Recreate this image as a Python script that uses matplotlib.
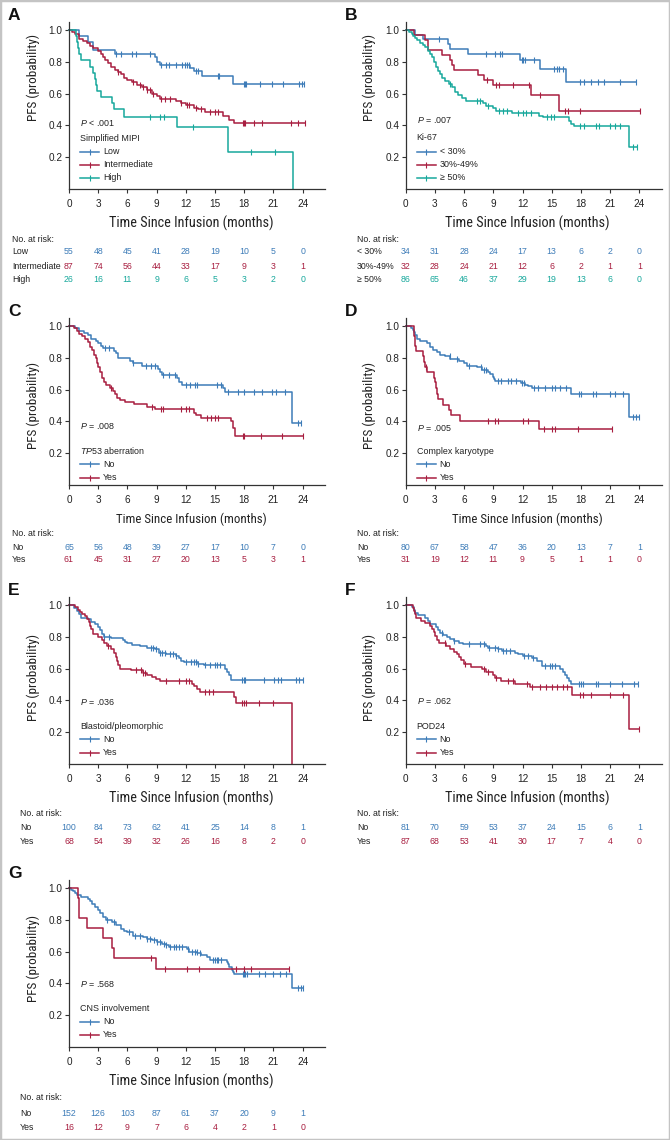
import numpy as np
import matplotlib
matplotlib.use("Agg")
import matplotlib.pyplot as plt
from matplotlib.patches import Rectangle
from matplotlib.transforms import blended_transform_factory

plt.rcParams['font.family'] = ['Liberation Sans', 'DejaVu Sans']
plt.rcParams['mathtext.fontset'] = 'custom'
plt.rcParams['mathtext.rm'] = 'Liberation Sans'
plt.rcParams['mathtext.it'] = 'Liberation Sans:italic'

BLUE = '#3d7cb8'
RED = '#a81e40'
TEAL = '#17a89c'
TXT = '#222222'
LABEL_FONT = ['Roboto Condensed', 'Liberation Sans']

months = [0, 3, 6, 9, 12, 15, 18, 21, 24]

# ---- A: simplified MIPI ----
a_low_t = [1.0, 2.0, 2.5, 4.7, 8.8, 9.0, 9.3, 12.4, 12.8, 13.7, 16.8]
a_low_s = [0.964, 0.927, 0.873, 0.848, 0.83, 0.80, 0.78, 0.76, 0.745, 0.71, 0.662]
a_low_c = [4.8, 5.3, 6.5, 6.9, 8.3, 9.5, 10.0, 10.3, 11.0, 11.6, 11.9, 12.1, 12.3, 13.0, 13.3,
           15.3, 15.4, 18.0, 18.1, 18.2, 19.6, 20.9, 22.0, 23.6, 23.9, 24.1]
a_int_t = [0.3, 0.6, 1.0, 1.4, 1.8, 2.2, 2.5, 3.0, 3.3, 3.5, 3.7, 4.0, 4.3, 4.7, 5.0, 5.3, 5.6,
           6.0, 6.5, 7.0, 7.5, 8.0, 8.5, 9.0, 9.4, 11.0, 11.5, 12.0, 12.8, 13.3, 14.0, 15.8, 16.4, 17.0]
a_int_s = [0.99, 0.975, 0.945, 0.93, 0.915, 0.90, 0.885, 0.87, 0.85, 0.83, 0.81, 0.79, 0.77, 0.75,
           0.735, 0.72, 0.70, 0.685, 0.67, 0.655, 0.64, 0.62, 0.60, 0.585, 0.565, 0.555, 0.54, 0.53,
           0.51, 0.50, 0.485, 0.46, 0.435, 0.414]
a_int_c = [5.0, 6.6, 7.3, 7.6, 8.0, 8.3, 8.6, 9.5, 9.9, 10.4, 11.5, 12.1, 12.3, 13.0, 13.6, 14.5,
           15.0, 15.3, 17.9, 18.0, 18.1, 19.0, 19.8, 22.8, 23.5, 24.2]
a_high_t = [0.7, 0.8, 0.9, 1.0, 1.2, 2.2, 2.5, 2.7, 2.8, 2.9, 3.3, 4.4, 4.6, 5.6, 11.1, 16.3, 23.0]
a_high_s = [0.962, 0.923, 0.885, 0.846, 0.808, 0.769, 0.731, 0.692, 0.654, 0.615, 0.577, 0.538,
            0.50, 0.455, 0.39, 0.234, 0.0]
a_high_c = [8.3, 9.3, 9.8, 12.7, 18.7, 21.2]
a_risk_low = [55, 48, 45, 41, 28, 19, 10, 5, 0]
a_risk_int = [87, 74, 56, 44, 33, 17, 9, 3, 1]
a_risk_high = [26, 16, 11, 9, 6, 5, 3, 2, 0]

# ---- B: Ki-67 ----
b_lo_t = [1.0, 1.8, 4.3, 4.5, 6.4, 11.7, 13.8, 16.5]
b_lo_s = [0.971, 0.941, 0.91, 0.88, 0.85, 0.81, 0.755, 0.672]
b_lo_c = [3.4, 8.2, 9.2, 9.7, 9.9, 11.9, 12.0, 12.3, 13.2, 15.2, 15.5, 15.8, 16.2, 17.9, 18.3,
          19.0, 19.8, 20.4, 22.0, 23.7]
b_mid_t = [0.9, 2.0, 2.3, 3.7, 4.5, 4.8, 5.0, 7.4, 8.0, 9.0, 12.9, 15.8]
b_mid_s = [0.969, 0.938, 0.875, 0.844, 0.813, 0.781, 0.75, 0.719, 0.688, 0.656, 0.59, 0.49]
b_mid_c = [8.4, 9.3, 9.6, 11.0, 12.7, 13.8, 16.4, 16.7, 17.9, 24.1]
b_hi_t = [0.3, 0.6, 0.8, 1.0, 1.2, 1.5, 1.8, 2.0, 2.3, 2.5, 2.7, 2.9, 3.1, 3.3, 3.5, 3.7, 4.0, 4.4,
          4.8, 5.1, 5.4, 5.8, 6.2, 7.9, 8.3, 9.0, 9.3, 10.9, 13.7, 14.1, 16.8, 17.0, 17.3, 22.9]
b_hi_s = [0.988, 0.977, 0.965, 0.95, 0.935, 0.92, 0.905, 0.89, 0.87, 0.85, 0.83, 0.80, 0.77, 0.74,
          0.72, 0.70, 0.68, 0.66, 0.64, 0.61, 0.59, 0.57, 0.555, 0.54, 0.525, 0.51, 0.49, 0.475,
          0.46, 0.45, 0.43, 0.41, 0.397, 0.265]
b_hi_c = [4.6, 7.3, 7.6, 8.5, 9.6, 10.0, 10.4, 11.5, 12.0, 12.4, 12.9, 14.5, 14.9, 15.2, 17.9,
          18.3, 19.6, 19.9, 21.0, 21.5, 22.0, 23.4, 23.8]
b_risk_lo = [34, 31, 28, 24, 17, 13, 6, 2, 0]
b_risk_mid = [32, 28, 24, 21, 12, 6, 2, 1, 1]
b_risk_hi = [86, 65, 46, 37, 29, 19, 13, 6, 0]

# ---- C: TP53 aberration ----
c_no_t = [0.6, 1.0, 1.5, 2.0, 2.3, 2.8, 3.0, 3.3, 3.5, 4.6, 4.8, 5.0, 6.3, 6.6, 7.5, 9.1, 9.4,
          9.6, 11.1, 11.3, 11.6, 15.8, 16.0, 22.9]
c_no_s = [0.985, 0.97, 0.955, 0.94, 0.92, 0.905, 0.89, 0.875, 0.862, 0.845, 0.83, 0.80, 0.78,
          0.765, 0.75, 0.73, 0.71, 0.69, 0.67, 0.65, 0.63, 0.61, 0.585, 0.392]
c_no_c = [3.7, 4.1, 6.6, 7.9, 8.4, 8.8, 9.7, 10.3, 10.9, 12.0, 12.4, 12.9, 13.2, 15.2, 15.6, 16.3,
          17.4, 18.0, 19.0, 19.8, 20.9, 21.3, 22.2, 23.5, 23.8]
c_yes_t = [0.5, 0.8, 1.0, 1.3, 1.6, 2.0, 2.2, 2.4, 2.6, 2.8, 2.9, 3.0, 3.2, 3.4, 3.6, 3.8, 4.2,
           4.5, 4.7, 4.9, 5.2, 5.8, 6.7, 8.0, 8.8, 12.8, 13.0, 13.6, 16.6, 16.8, 17.1]
c_yes_s = [0.984, 0.967, 0.95, 0.934, 0.918, 0.90, 0.87, 0.85, 0.82, 0.80, 0.77, 0.74, 0.71,
           0.67, 0.65, 0.63, 0.61, 0.59, 0.57, 0.55, 0.535, 0.52, 0.51, 0.49, 0.475, 0.455, 0.44,
           0.42, 0.40, 0.36, 0.305]
c_yes_c = [4.3, 8.5, 9.5, 9.7, 11.5, 12.0, 12.3, 14.2, 14.6, 15.0, 15.3, 17.9, 18.0, 19.7, 21.9, 24.0]
c_risk_no = [65, 56, 48, 39, 27, 17, 10, 7, 0]
c_risk_yes = [61, 45, 31, 27, 20, 13, 5, 3, 1]

# ---- D: complex karyotype ----
d_no_t = [0.5, 0.8, 0.9, 1.0, 1.2, 1.5, 2.2, 2.5, 2.8, 3.2, 3.5, 4.0, 4.6, 5.5, 6.0, 6.3, 7.3,
          7.8, 8.5, 8.7, 9.0, 9.1, 9.2, 11.8, 12.3, 12.6, 13.0, 17.0, 22.9]
d_no_s = [0.99, 0.975, 0.96, 0.94, 0.92, 0.905, 0.89, 0.87, 0.85, 0.835, 0.82, 0.81, 0.79, 0.78,
          0.765, 0.75, 0.74, 0.725, 0.71, 0.70, 0.68, 0.665, 0.653, 0.64, 0.63, 0.62, 0.611,
          0.574, 0.43]
d_no_c = [4.5, 5.3, 6.5, 7.7, 8.0, 8.3, 9.5, 9.8, 10.5, 10.8, 11.3, 11.9, 12.2, 13.2, 13.6, 14.3,
          15.0, 15.3, 15.9, 16.5, 17.8, 18.0, 19.2, 19.5, 21.0, 21.5, 22.3, 23.4, 23.7, 24.0]
d_yes_t = [0.85, 0.9, 0.95, 1.0, 1.1, 1.8, 1.9, 2.0, 2.2, 2.9, 3.0, 3.1, 3.2, 3.35, 3.8, 4.4,
           4.7, 5.6, 13.7]
d_yes_s = [0.968, 0.935, 0.903, 0.871, 0.84, 0.81, 0.775, 0.745, 0.71, 0.675, 0.645, 0.61, 0.575,
           0.54, 0.505, 0.47, 0.44, 0.405, 0.35]
d_yes_c = [2.1, 8.5, 9.2, 9.5, 12.0, 12.6, 14.2, 15.0, 15.3, 17.7, 21.2]
d_risk_no = [80, 67, 58, 47, 36, 20, 13, 7, 1]
d_risk_yes = [31, 19, 12, 11, 9, 5, 1, 1, 0]

# ---- E: blastoid/pleomorphic ----
e_no_t = [0.5, 0.8, 1.0, 1.2, 2.0, 2.3, 2.7, 3.0, 3.2, 3.4, 3.6, 4.3, 5.5, 5.8, 6.0, 6.5, 7.3,
          8.0, 8.8, 9.2, 10.0, 11.0, 11.3, 11.5, 11.8, 13.3, 13.9, 16.0, 16.2, 16.4, 16.6]
e_no_s = [0.98, 0.96, 0.94, 0.92, 0.91, 0.895, 0.88, 0.86, 0.84, 0.82, 0.80, 0.79, 0.78, 0.77,
          0.76, 0.75, 0.74, 0.73, 0.72, 0.70, 0.69, 0.68, 0.665, 0.65, 0.64, 0.63, 0.62, 0.60,
          0.58, 0.56, 0.53]
e_no_c = [3.6, 4.1, 8.4, 8.6, 8.9, 9.3, 9.6, 9.9, 10.4, 10.7, 11.0, 12.0, 12.5, 12.8, 13.0, 13.3,
          14.0, 14.5, 15.0, 15.2, 15.5, 17.8, 18.0, 18.1, 20.0, 21.1, 21.5, 21.8, 23.3, 23.6, 24.0]
e_yes_t = [0.6, 0.9, 1.1, 1.3, 1.6, 1.9, 2.1, 2.2, 2.3, 2.5, 3.0, 3.4, 3.6, 3.9, 4.3, 4.6, 4.8,
           4.9, 5.0, 5.2, 6.4, 7.6, 8.0, 8.5, 8.9, 9.4, 12.6, 12.8, 13.2, 13.5, 16.9, 17.2, 22.9]
e_yes_s = [0.985, 0.97, 0.955, 0.94, 0.93, 0.91, 0.895, 0.87, 0.85, 0.82, 0.80, 0.78, 0.76, 0.74,
           0.72, 0.70, 0.675, 0.65, 0.62, 0.60, 0.59, 0.575, 0.56, 0.55, 0.535, 0.52, 0.505, 0.49,
           0.47, 0.45, 0.42, 0.385, 0.0]
e_yes_c = [4.0, 6.9, 7.4, 7.6, 7.8, 10.0, 11.3, 12.0, 12.3, 14.0, 14.4, 14.8, 17.8, 18.0, 18.2,
           19.5, 21.0]
e_risk_no = [100, 84, 73, 62, 41, 25, 14, 8, 1]
e_risk_yes = [68, 54, 39, 32, 26, 16, 8, 2, 0]

# ---- F: POD24 ----
f_no_t = [0.6, 0.9, 1.0, 1.3, 2.0, 2.3, 2.5, 3.1, 3.3, 3.5, 3.8, 4.2, 4.6, 5.0, 5.5, 5.9, 8.2,
          8.5, 9.5, 9.9, 11.2, 11.5, 12.0, 13.0, 13.5, 14.0, 15.9, 16.2, 16.4, 16.6, 16.8, 17.0]
f_no_s = [0.99, 0.97, 0.95, 0.935, 0.92, 0.90, 0.88, 0.86, 0.84, 0.825, 0.81, 0.80, 0.787, 0.775,
          0.763, 0.754, 0.74, 0.727, 0.72, 0.71, 0.70, 0.69, 0.68, 0.665, 0.65, 0.615, 0.60, 0.58,
          0.56, 0.54, 0.52, 0.502]
f_no_c = [3.7, 5.0, 6.5, 7.6, 8.0, 8.6, 9.2, 9.5, 10.0, 10.3, 10.7, 12.2, 12.6, 13.1, 14.3, 14.8,
          15.0, 15.3, 17.8, 18.0, 18.2, 19.6, 19.8, 21.0, 22.2, 23.5, 23.9]
f_yes_t = [0.7, 0.9, 1.0, 1.1, 1.6, 2.0, 2.5, 2.7, 2.9, 3.0, 3.2, 3.4, 4.1, 4.6, 5.0, 5.3, 5.5,
           5.7, 6.0, 6.7, 7.8, 8.2, 9.0, 9.2, 9.8, 11.2, 12.8, 17.1, 22.9]
f_yes_s = [0.98, 0.96, 0.94, 0.92, 0.90, 0.885, 0.87, 0.85, 0.83, 0.805, 0.78, 0.76, 0.745, 0.725,
           0.705, 0.69, 0.67, 0.655, 0.63, 0.607, 0.595, 0.578, 0.56, 0.54, 0.525, 0.505, 0.485,
           0.435, 0.218]
f_yes_c = [4.0, 6.1, 8.0, 8.5, 9.3, 10.5, 11.0, 12.5, 13.0, 13.8, 14.4, 15.0, 15.5, 16.2, 16.6,
           17.9, 18.2, 19.0, 21.0, 22.3, 24.0]
f_risk_no = [81, 70, 59, 53, 37, 24, 15, 6, 1]
f_risk_yes = [87, 68, 53, 41, 30, 17, 7, 4, 0]

# ---- G: CNS involvement ----
g_no_t = [0.2, 0.4, 0.6, 0.8, 1.2, 2.0, 2.2, 2.4, 2.7, 3.0, 3.2, 3.5, 3.8, 4.4, 4.8, 5.3, 5.7,
          6.0, 6.6, 7.6, 8.0, 8.5, 9.0, 9.6, 10.0, 10.3, 12.1, 12.3, 13.2, 13.6, 14.2, 14.5, 16.2,
          16.3, 16.4, 16.7, 16.8, 17.0, 22.9]
g_no_s = [0.99, 0.98, 0.97, 0.955, 0.94, 0.93, 0.92, 0.90, 0.88, 0.86, 0.84, 0.82, 0.80, 0.785,
          0.765, 0.745, 0.73, 0.72, 0.70, 0.69, 0.68, 0.67, 0.66, 0.65, 0.64, 0.63, 0.615, 0.60,
          0.59, 0.58, 0.565, 0.55, 0.535, 0.52, 0.50, 0.485, 0.47, 0.457, 0.368]
g_no_c = [3.9, 4.6, 6.2, 6.8, 7.3, 8.0, 8.3, 8.7, 9.0, 9.3, 9.8, 10.0, 10.4, 10.8, 11.0, 11.3,
          11.6, 12.2, 12.6, 12.9, 13.1, 13.5, 14.8, 15.0, 15.2, 15.3, 15.6, 17.9, 18.0, 18.1, 18.3,
          19.5, 20.1, 21.0, 21.7, 22.3, 23.5, 23.8, 24.0]
g_yes_t = [0.9, 1.0, 1.9, 3.5, 4.4, 4.6, 8.9]
g_yes_s = [0.9375, 0.8125, 0.75, 0.6875, 0.625, 0.5625, 0.49]
g_yes_c = [8.4, 9.85, 12.1, 13.4, 17.2, 17.95, 18.7, 22.6]
g_risk_no = [152, 126, 103, 87, 61, 37, 20, 9, 1]
g_risk_yes = [16, 12, 9, 7, 6, 4, 2, 1, 0]

W, H = 670, 1140
fig = plt.figure(figsize=(W / 100, H / 100), dpi=100)
fig.add_artist(Rectangle((0, 0), 1, 1, transform=fig.transFigure, fill=False,
                         edgecolor='#c4c4c4', lw=2.5))


def km(ax, t, s, c, color):
    t = np.asarray(t, float)
    s = np.asarray(s, float)
    end = max(t[-1], max(c)) if s[-1] > 0 else t[-1]
    xs = np.r_[0, t, end]
    ys = np.r_[1.0, s, s[-1]]
    ax.step(xs, ys, where='post', color=color, lw=1.1, clip_on=False)
    lvl = np.r_[1.0, s][np.searchsorted(t, c, side='right')]
    ax.plot(c, lvl, ls='none', marker='|', ms=4.5, mew=0.8, color=color, clip_on=False)


def panel(letter, left, top, bottom, curves, title, pval, leg_y, tab_x, tab_y, risks, small=False):
    ax = fig.add_axes([left / W, 1 - bottom / H, 256 / W, (bottom - top) / H])
    for t, s, c, col in curves:
        km(ax, t, s, c, col)
    ax.set_xlim(0, 26.3)
    ax.set_ylim(0, 1.05)
    ax.set_xticks(months)
    ax.set_yticks([0.2, 0.4, 0.6, 0.8, 1.0])
    ax.set_yticklabels(['0.2', '0.4', '0.6', '0.8', '1.0'])
    for sp in ['top', 'right']:
        ax.spines[sp].set_visible(False)
    for sp in ['left', 'bottom']:
        ax.spines[sp].set_color('#333333')
        ax.spines[sp].set_linewidth(0.9)
    ax.tick_params(axis='both', length=3, width=0.8, color='#333333', labelsize=7.2, labelcolor=TXT)
    ax.tick_params(axis='x', pad=4)
    ax.tick_params(axis='y', pad=1.5)
    hgt = bottom - top
    ax.text((191 - 69) / 256, -34.5 / hgt, 'Time Since Infusion (months)',
            fontsize=9.3 if small else 10.3, family=LABEL_FONT,
            color=TXT, ha='center', va='center', transform=ax.transAxes)
    ax.text(-36 / 256, leg_y[0], 'PFS (probability)', rotation=90, fontsize=9.5,
            family=LABEL_FONT, color=TXT, ha='center', va='center', transform=ax.transAxes)
    fig.text((left - 61) / W, 1 - (top - 7) / H, letter, fontsize=12.5, fontweight='bold',
             color='#111111', ha='left', va='center')
    # p value and legend
    ax.text(11 / 256, leg_y[1], pval, fontsize=6.4, color=TXT, va='center', transform=ax.transAxes)
    ax.text(11 / 256, leg_y[2], title, fontsize=6.4, color=TXT, va='center', transform=ax.transAxes)
    for (lab, col), yy in zip([(r[0], r[1]) for r in risks], leg_y[3:]):
        ax.plot([11 / 256, 30 / 256], [yy, yy], color=col, lw=1.1, transform=ax.transAxes,
                clip_on=False)
        ax.plot([20.5 / 256], [yy], marker='|', ms=4.5, mew=0.8, color=col,
                transform=ax.transAxes, clip_on=False)
        ax.text(34 / 256, yy, lab, fontsize=6.4, color=TXT, va='center', transform=ax.transAxes)
    # numbers at risk
    tr = blended_transform_factory(ax.transData, fig.transFigure)
    fig.text(tab_x / W, 1 - tab_y[0] / H, 'No. at risk:', fontsize=6.3, color=TXT, va='center')
    for (lab, col, vals), yy in zip(risks, tab_y[1:]):
        fig.text(tab_x / W, 1 - yy / H, lab, fontsize=6.3, color=TXT, va='center')
        for m, v in zip(months, vals):
            ax.text(m, 1 - yy / H, str(v), fontsize=6.3, color=col, ha='center', va='center',
                    transform=tr)
    return ax


panel('A', 69, 22, 189,
      [(a_low_t, a_low_s, a_low_c, BLUE), (a_int_t, a_int_s, a_int_c, RED),
       (a_high_t, a_high_s, a_high_c, TEAL)],
      'Simplified MIPI', r'$P$ < .001', [0.67, 0.395, 0.305, 0.222, 0.144, 0.066],
      12, [239, 252, 266, 279],
      [('Low', BLUE, a_risk_low), ('Intermediate', RED, a_risk_int), ('High', TEAL, a_risk_high)])

panel('B', 405.7, 22, 189,
      [(b_lo_t, b_lo_s, b_lo_c, BLUE), (b_mid_t, b_mid_s, b_mid_c, RED),
       (b_hi_t, b_hi_s, b_hi_c, TEAL)],
      'Ki-67', r'$P$ = .007', [0.67, 0.413, 0.31, 0.222, 0.144, 0.066],
      357, [239, 252, 266, 279],
      [('< 30%', BLUE, b_risk_lo), ('30%-49%', RED, b_risk_mid), ('\u2265 50%', TEAL, b_risk_hi)])

panel('C', 69, 318, 485,
      [(c_no_t, c_no_s, c_no_c, BLUE), (c_yes_t, c_yes_s, c_yes_c, RED)],
      r'$\mathit{TP53}$ aberration', r'$P$ = .008', [0.475, 0.353, 0.204, 0.124, 0.044],
      12, [534, 547, 560],
      [('No', BLUE, c_risk_no), ('Yes', RED, c_risk_yes)], small=True)

panel('D', 405.7, 318, 485,
      [(d_no_t, d_no_s, d_no_c, BLUE), (d_yes_t, d_yes_s, d_yes_c, RED)],
      'Complex karyotype', r'$P$ = .005', [0.475, 0.34, 0.2, 0.124, 0.044],
      357, [534, 547, 560],
      [('No', BLUE, d_risk_no), ('Yes', RED, d_risk_yes)], small=True)

panel('E', 69, 597, 764,
      [(e_no_t, e_no_s, e_no_c, BLUE), (e_yes_t, e_yes_s, e_yes_c, RED)],
      'Blastoid/pleomorphic', r'$P$ = .036', [0.515, 0.373, 0.227, 0.148, 0.068],
      20, [813, 828, 841],
      [('No', BLUE, e_risk_no), ('Yes', RED, e_risk_yes)])

panel('F', 405.7, 597, 764,
      [(f_no_t, f_no_s, f_no_c, BLUE), (f_yes_t, f_yes_s, f_yes_c, RED)],
      'POD24', r'$P$ = .062', [0.515, 0.377, 0.227, 0.148, 0.068],
      357, [813, 828, 841],
      [('No', BLUE, f_risk_no), ('Yes', RED, f_risk_yes)])

panel('G', 69, 880, 1047,
      [(g_no_t, g_no_s, g_no_c, BLUE), (g_yes_t, g_yes_s, g_yes_c, RED)],
      'CNS involvement', r'$P$ = .568', [0.527, 0.379, 0.232, 0.152, 0.072],
      20, [1098, 1113, 1127],
      [('No', BLUE, g_risk_no), ('Yes', RED, g_risk_yes)])

fig.savefig('out.png', dpi=100)
